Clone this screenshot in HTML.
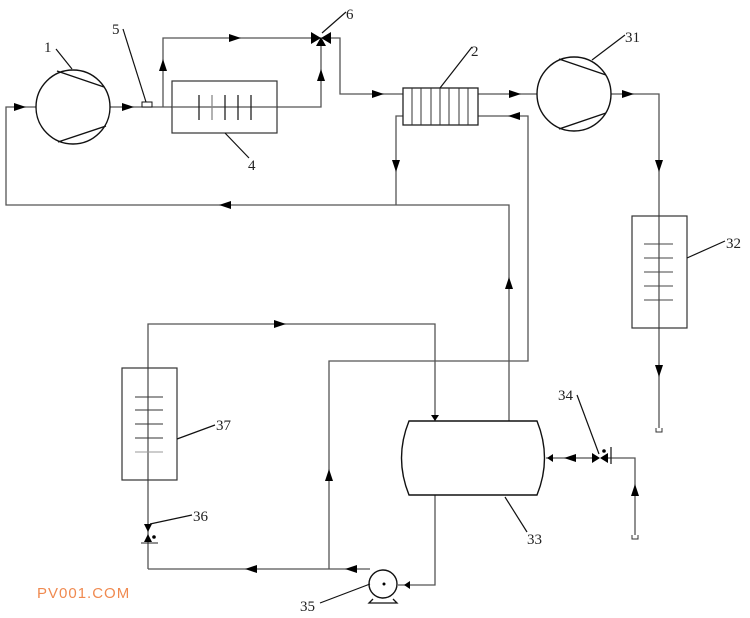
<!DOCTYPE html>
<html><head><meta charset="utf-8"><style>
html,body{margin:0;padding:0;background:#fff}
svg{display:block}
text{font-family:"Liberation Serif",serif;font-size:15px;fill:#222}
</style></head><body>
<svg width="750" height="618" viewBox="0 0 750 618" xmlns="http://www.w3.org/2000/svg">
<defs>
<marker id="a" viewBox="0 0 10 6" refX="5" refY="3" markerWidth="12" markerHeight="7" orient="auto" markerUnits="userSpaceOnUse"><path d="M0,0L10,3L0,6z" fill="#000"/></marker>
</defs>
<g fill="none" stroke="#555" stroke-width="1.3">
<!-- loop 1 -->
<path d="M37,107H6V205H509V421"/>
<path d="M110,107H172M277,107H321V45"/>
<path d="M163,107V38H313"/>
<path d="M328,38H340V94H403"/>
<path d="M478,94H537M611,94H659V428"/>
<path d="M478,116H528V361H329V569"/>
<path d="M403,116H396V205"/>
<!-- secondary -->
<path d="M148,569V324H435V421"/>
<path d="M148,569H370"/>
<path d="M435,495V585H398"/>
<path d="M546,458H592M606,458H635V535"/>
</g>
<!-- arrows -->
<g stroke="none">
<path d="M14,103L26,107L14,111z"/>
<path d="M122,103L134,107L122,111z"/>
<path d="M159,71L163,59L167,71z"/>
<path d="M229,34L241,38L229,42z"/>
<path d="M317,81L321,69L325,81z"/>
<path d="M372,90L384,94L372,98z"/>
<path d="M509,90L521,94L509,98z"/>
<path d="M622,90L634,94L622,98z"/>
<path d="M520,112L508,116L520,120z"/>
<path d="M392,160L396,172L400,160z"/>
<path d="M231,201L219,205L231,209z"/>
<path d="M655,160L659,172L663,160z"/>
<path d="M655,365L659,377L663,365z"/>
<path d="M505,289L509,277L513,289z"/>
<path d="M274,320L286,324L274,328z"/>
<path d="M431,415L435,421L439,415z"/>
<path d="M325,481L329,469L333,481z"/>
<path d="M257,565L245,569L257,573z"/>
<path d="M357,565L345,569L357,573z"/>
<path d="M410,581L404,585L410,589z"/>
<path d="M576,454L564,458L576,462z"/>
<path d="M553,454L547,458L553,462z"/>
<path d="M631,496L635,484L639,496z"/>
</g>
<!-- compressor 1 -->
<g fill="#fff" stroke="#111" stroke-width="1.4">
<circle cx="73" cy="107" r="37"/>
<line x1="57" y1="71" x2="104" y2="87" />
<line x1="58" y1="142" x2="106" y2="126"/>
<circle cx="574" cy="94" r="37"/>
<line x1="559" y1="59" x2="606" y2="75"/>
<line x1="559" y1="129" x2="606" y2="113"/>
</g>
<rect x="142" y="102" width="10" height="5" fill="#fff" stroke="#111"/>
<!-- box 4 -->
<rect x="172" y="81" width="105" height="52" fill="none" stroke="#333" stroke-width="1.2"/>
<line x1="172" y1="107" x2="277" y2="107" stroke="#555" stroke-width="1.3"/>
<g stroke="#222" stroke-width="1.3"><line x1="199" y1="95" x2="199" y2="120"/><line x1="212" y1="95" x2="212" y2="120" stroke="#888"/><line x1="225" y1="95" x2="225" y2="120"/><line x1="238" y1="95" x2="238" y2="120"/><line x1="251" y1="95" x2="251" y2="120"/></g>
<!-- valve 6 -->
<path d="M311,32L321,38L311,44zM331,32L321,38L331,44zM316,46L321,37L326,46z" fill="#000"/>
<!-- HX 2 -->
<rect x="403" y="88" width="75" height="37" fill="#fff" stroke="#222" stroke-width="1.3"/>
<g stroke="#333"><line x1="412" y1="88" x2="412" y2="125"/><line x1="421" y1="88" x2="421" y2="125"/><line x1="431" y1="88" x2="431" y2="125"/><line x1="440" y1="88" x2="440" y2="125"/><line x1="449" y1="88" x2="449" y2="125"/><line x1="459" y1="88" x2="459" y2="125"/><line x1="468" y1="88" x2="468" y2="125"/></g>
<!-- box 32 -->
<rect x="632" y="216" width="55" height="112" fill="none" stroke="#333" stroke-width="1.2"/>
<g stroke="#444"><line x1="644" y1="244" x2="673" y2="244"/><line x1="644" y1="258" x2="673" y2="258"/><line x1="644" y1="272" x2="673" y2="272"/><line x1="644" y1="286" x2="673" y2="286"/><line x1="644" y1="300" x2="673" y2="300"/></g>
<path d="M656,428V432H662V428" fill="none" stroke="#333"/>
<!-- box 37 -->
<rect x="122" y="368" width="55" height="112" fill="none" stroke="#333" stroke-width="1.2"/>
<g stroke="#333"><line x1="135" y1="397" x2="163" y2="397"/><line x1="135" y1="410" x2="163" y2="410"/><line x1="135" y1="424" x2="163" y2="424"/><line x1="135" y1="438" x2="163" y2="438"/><line x1="135" y1="452" x2="163" y2="452" stroke="#999"/></g>
<!-- valve 36 -->
<path d="M144,524L152,524L148,532zM144,542L152,542L148,534z" fill="#000"/>
<circle cx="154" cy="537" r="1.8" fill="#000"/>
<line x1="141" y1="543" x2="158" y2="543" stroke="#222"/>
<!-- tank 33 -->
<path d="M409,421H537Q552,458 537,495H409Q394,458 409,421z" fill="#fff" stroke="#111" stroke-width="1.4"/>
<!-- pump 35 -->
<circle cx="383" cy="584" r="14" fill="#fff" stroke="#111" stroke-width="1.4"/>
<path d="M373,599L369,603H397L393,599" fill="none" stroke="#111" stroke-width="1.3"/>
<circle cx="384" cy="584" r="1.5" fill="#000"/>
<!-- valve 34 -->
<path d="M592,453L600,458L592,463zM608,453L600,458L608,463z" fill="#000"/>
<circle cx="604" cy="451" r="1.8" fill="#000"/>
<line x1="611" y1="447" x2="611" y2="464" stroke="#222" stroke-width="1.3"/>
<path d="M632,535V539H638V535" fill="none" stroke="#333"/>
<!-- leaders -->
<g stroke="#111" stroke-width="1.2">
<line x1="56" y1="49" x2="72" y2="69"/>
<line x1="123" y1="29" x2="146" y2="102"/>
<line x1="225" y1="133" x2="249" y2="158"/>
<line x1="322" y1="33" x2="346" y2="12"/>
<line x1="440" y1="88" x2="472" y2="47"/>
<line x1="592" y1="60" x2="625" y2="35"/>
<line x1="687" y1="258" x2="725" y2="241"/>
<line x1="177" y1="439" x2="215" y2="425"/>
<line x1="150" y1="524" x2="192" y2="515"/>
<line x1="505" y1="497" x2="527" y2="532"/>
<line x1="577" y1="395" x2="599" y2="454"/>
<line x1="320" y1="603" x2="370" y2="584"/>
</g>
<!-- labels -->
<text x="44" y="52">1</text>
<text x="112" y="34">5</text>
<text x="248" y="170">4</text>
<text x="346" y="19">6</text>
<text x="471" y="56">2</text>
<text x="625" y="42">31</text>
<text x="726" y="248">32</text>
<text x="216" y="430">37</text>
<text x="193" y="521">36</text>
<text x="527" y="544">33</text>
<text x="558" y="400">34</text>
<text x="300" y="611">35</text>
<text x="37" y="598" style="font-family:'Liberation Sans',sans-serif;font-size:15px;fill:#f08a50;letter-spacing:1px">PV001.COM</text>
</svg>
</body></html>
